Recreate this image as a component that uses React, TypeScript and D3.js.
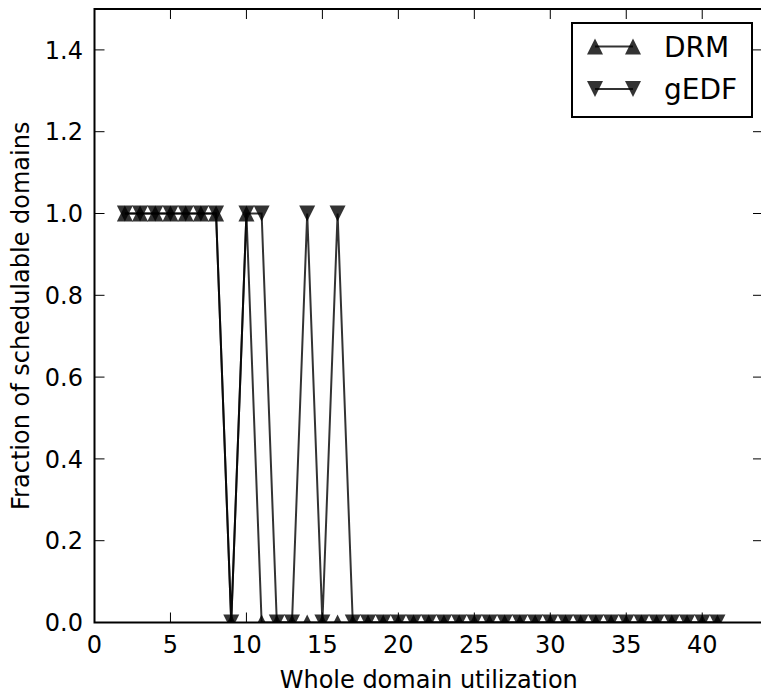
import React from "react";
import * as d3 from "d3";

const utilization = [2,3,4,5,6,7,8,9,10,11,12,13,14,15,16,17,18,19,20,21,22,23,24,25,26,27,28,29,30,31,32,33,34,35,36,37,38,39,40,41];
const drmValues = [1,1,1,1,1,1,1,0,1,0,0,0,0,0,0,0,0,0,0,0,0,0,0,0,0,0,0,0,0,0,0,0,0,0,0,0,0,0,0,0];
const gedfValues = [1,1,1,1,1,1,1,0,1,1,0,0,1,0,1,0,0,0,0,0,0,0,0,0,0,0,0,0,0,0,0,0,0,0,0,0,0,0,0,0];
const xTicks = [0,5,10,15,20,25,30,35,40];
const yTicks = [0.0,0.2,0.4,0.6,0.8,1.0,1.2,1.4];
const seriesNames = ["DRM", "gEDF"];

const W = 761, H = 693;
const L = 94.5, R = 763, T = 9, B = 622.5;
const FONT = "'DejaVu Sans', sans-serif";
const MS = 16;

function tri(cx: number, cy: number, up: boolean) {
  const h = MS / 2;
  return up
    ? `M${cx},${cy - h}L${cx - h},${cy + h}L${cx + h},${cy + h}Z`
    : `M${cx},${cy + h}L${cx - h},${cy - h}L${cx + h},${cy - h}Z`;
}

export default function App() {
  const x = d3.scaleLinear().domain([0, 44]).range([L, R]);
  const y = d3.scaleLinear().domain([0, 1.5]).range([B, T]);
  const series = [
    { name: seriesNames[0], values: drmValues, up: true },
    { name: seriesNames[1], values: gedfValues, up: false },
  ];
  const line = d3.line<number>().x((_, i) => x(utilization[i])).y((d) => y(d));
  return (
    <svg width={W} height={H} style={{ position: "absolute", left: 0, top: 0, background: "#fff" }}>
      <defs>
        <clipPath id="clip"><rect x={L} y={T} width={R - L} height={B - T} /></clipPath>
      </defs>
      <g clipPath="url(#clip)">
        {series.map((s) => (
          <g key={s.name}>
            <path d={line(s.values) || ""} fill="none" stroke="#000" strokeOpacity={0.8} strokeWidth={2} />
            {s.values.map((v, i) => (
              <path key={i} d={tri(x(utilization[i]), y(v), s.up)} fill="#000" fillOpacity={0.8} />
            ))}
          </g>
        ))}
      </g>
      {/* ticks */}
      {xTicks.map((t) => (
        <g key={"x" + t}>
          <line x1={x(t)} x2={x(t)} y1={B} y2={B - 10} stroke="#000" strokeWidth={1} />
          <line x1={x(t)} x2={x(t)} y1={T} y2={T + 10} stroke="#000" strokeWidth={1} />
          <text x={x(t)} y={653} textAnchor="middle" fontFamily={FONT} fontSize={24} fill="#000">{t}</text>
        </g>
      ))}
      {yTicks.map((t) => (
        <g key={"y" + t}>
          <line x1={L} x2={L + 10} y1={y(t)} y2={y(t)} stroke="#000" strokeWidth={1} />
          <line x1={R} x2={R - 10} y1={y(t)} y2={y(t)} stroke="#000" strokeWidth={1} />
          <text x={83} y={y(t)} dy="0.36em" textAnchor="end" fontFamily={FONT} fontSize={24} fill="#000">{t.toFixed(1)}</text>
        </g>
      ))}
      <rect x={L} y={T} width={R - L} height={B - T} fill="none" stroke="#000" strokeWidth={2} />
      <text x={(L + R) / 2} y={688} textAnchor="middle" fontFamily={FONT} fontSize={24} fill="#000">Whole domain utilization</text>
      <text transform={`translate(29,${(T + B) / 2}) rotate(-90)`} textAnchor="middle" fontFamily={FONT} fontSize={24} fill="#000">Fraction of schedulable domains</text>
      {/* legend */}
      <g>
        <rect x={572} y={23} width={180} height={94} fill="#fff" stroke="#000" strokeWidth={2} />
        {series.map((s, i) => {
          const cy = 46.5 + i * 42.5;
          return (
            <g key={s.name}>
              <line x1={595} x2={633} y1={cy} y2={cy} stroke="#000" strokeOpacity={0.8} strokeWidth={2} />
              <path d={tri(595, cy, s.up)} fill="#000" fillOpacity={0.8} />
              <path d={tri(633, cy, s.up)} fill="#000" fillOpacity={0.8} />
              <text x={664} y={cy} dy="0.36em" fontFamily={FONT} fontSize={28} fill="#000">{s.name}</text>
            </g>
          );
        })}
      </g>
    </svg>
  );
}
